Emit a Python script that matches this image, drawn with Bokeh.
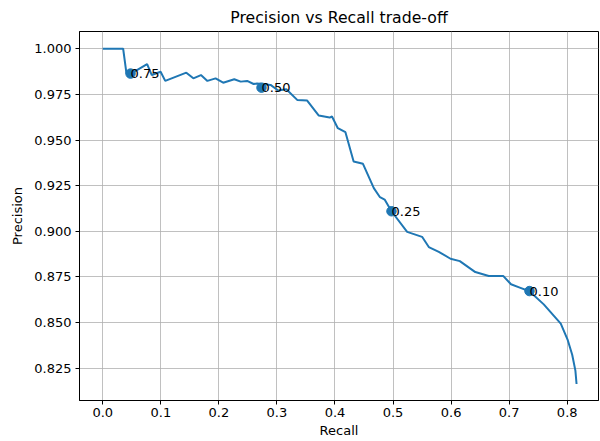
from bokeh.plotting import figure
from bokeh.models import Range1d, FixedTicker, NumeralTickFormatter, ColumnDataSource
from bokeh.core.properties import value
from bokeh.embed import file_html
from bokeh.resources import INLINE

recall = [0.000, 0.0351, 0.0408, 0.0478, 0.0764, 0.0844, 0.0996, 0.1076, 0.1439, 0.1560,
          0.1691, 0.1802, 0.1943, 0.2074, 0.2265, 0.2376, 0.2487, 0.2598, 0.2658, 0.2890,
          0.3021, 0.3162, 0.3349, 0.3521, 0.3721, 0.3908, 0.3948, 0.4049, 0.4180, 0.4321,
          0.4482, 0.4669, 0.4775, 0.4855, 0.4973, 0.5243, 0.5500, 0.5616, 0.5788, 0.5990,
          0.6150, 0.6417, 0.6649, 0.6901, 0.7032, 0.7183, 0.7350, 0.7596, 0.7889, 0.8010,
          0.8086, 0.8141, 0.8161]
precision = [1.000, 1.000, 0.9865, 0.9862, 0.9916, 0.9856, 0.9874, 0.9824, 0.9869, 0.9838,
             0.9856, 0.9824, 0.9838, 0.9814, 0.9833, 0.9820, 0.9824, 0.9807, 0.9810, 0.9802,
             0.9771, 0.9778, 0.9720, 0.9716, 0.9634, 0.9623, 0.9629, 0.9565, 0.9543, 0.9383,
             0.9370, 0.9237, 0.9187, 0.9174, 0.9110, 0.8997, 0.8970, 0.8914, 0.8888, 0.8850,
             0.8837, 0.8777, 0.8755, 0.8755, 0.8710, 0.8692, 0.8672, 0.8600, 0.8495, 0.8404,
             0.8324, 0.8237, 0.8164]

thr_labels = ["0.75", "0.50", "0.25", "0.10"]
thr_recall = [0.0478, 0.2734, 0.4973, 0.7350]
thr_precision = [0.9864, 0.9787, 0.9110, 0.8673]

x_ticks = [0.0, 0.1, 0.2, 0.3, 0.4, 0.5, 0.6, 0.7, 0.8]
y_ticks = [0.825, 0.850, 0.875, 0.900, 0.925, 0.950, 0.975, 1.000]

FONT = "DejaVu Sans"
BLUE = "#1f77b4"

p = figure(width=600, height=441, output_backend="svg", toolbar_location=None,
           x_range=Range1d(-0.0401, 0.8539), y_range=Range1d(0.80736, 1.00945),
           min_border_left=79, min_border_right=2, min_border_top=30, min_border_bottom=41,
           title="Precision vs Recall trade-off")

p.title.text_font = FONT
p.title.text_font_size = "15.7px"
p.title.text_font_style = "normal"
p.title.align = "center"
p.title.text_color = "#000000"

p.background_fill_color = "white"
p.border_fill_color = "white"
p.outline_line_color = "black"
p.outline_line_width = 1
p.outline_line_alpha = 1

p.xaxis.ticker = FixedTicker(ticks=x_ticks)
p.yaxis.ticker = FixedTicker(ticks=y_ticks)
p.xaxis.formatter = NumeralTickFormatter(format="0.0")
p.yaxis.formatter = NumeralTickFormatter(format="0.000")
p.xaxis.axis_label = "Recall"
p.yaxis.axis_label = "Precision"

for ax in (p.xaxis, p.yaxis):
    ax.axis_label_text_font = FONT
    ax.axis_label_text_font_size = "13px"
    ax.axis_label_text_font_style = "normal"
    ax.axis_label_text_color = "#000000"
    ax.major_label_text_font = FONT
    ax.major_label_text_font_size = "13px"
    ax.major_label_text_color = "#000000"
    ax.major_tick_out = 4
    ax.major_tick_in = 0
    ax.minor_tick_out = 0
    ax.minor_tick_in = 0
    ax.axis_line_color = "black"
    ax.major_tick_line_color = "black"

p.xaxis.major_label_standoff = 3
p.xaxis.axis_label_standoff = 3
p.yaxis.major_label_standoff = 4
p.yaxis.axis_label_standoff = 6

p.grid.grid_line_color = "#b0b0b0"
p.grid.grid_line_width = 0.8

p.line(recall, precision, line_color=BLUE, line_width=2)

src = ColumnDataSource(dict(x=thr_recall, y=thr_precision, t=thr_labels))
p.scatter("x", "y", source=src, size=9.5, fill_color=BLUE, line_color=BLUE)
p.text("x", "y", text="t", source=src, text_font=value(FONT), text_font_size="13px",
       text_align="left", text_baseline="alphabetic", text_color="#000000")

open("out.html", "w").write(file_html(p, INLINE))
